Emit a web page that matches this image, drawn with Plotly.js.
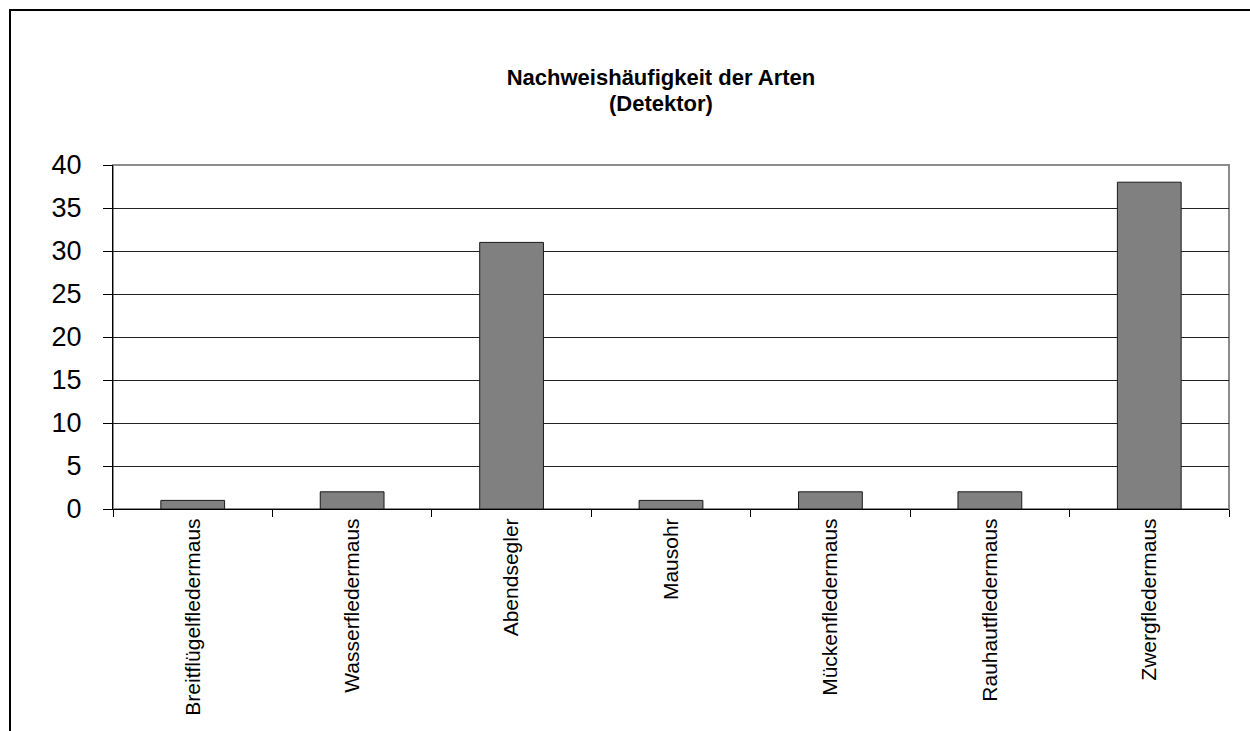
<!DOCTYPE html>
<html>
<head>
<meta charset="utf-8">
<script src="https://cdn.plot.ly/plotly-3.0.1.min.js"></script>
<style>
  html, body { margin: 0; padding: 0; background: #ffffff; overflow: hidden; }
  #wrap { position: relative; width: 1250px; height: 731px; overflow: hidden; }
  #chart { width: 1250px; height: 731px; }
  #frame { position: absolute; left: 9px; top: 9px; width: 1400px; height: 900px;
           border-top: 2px solid #000; border-left: 2px solid #000; pointer-events: none; }
</style>
</head>
<body>
<div id="wrap">
  <div id="chart"></div>
  <div id="frame"></div>
</div>
<script>
const categories = ["Breitflügelfledermaus", "Wasserfledermaus", "Abendsegler", "Mausohr", "Mückenfledermaus", "Rauhautfledermaus", "Zwergfledermaus"];
const counts = [1, 2, 31, 1, 2, 2, 38];
const yTicks = [0, 5, 10, 15, 20, 25, 30, 35, 40];
const titleLine1 = "Nachweishäufigkeit der Arten";
const titleLine2 = "(Detektor)";

const font = "Arial, 'Liberation Sans', sans-serif";

const trace = {
  type: "bar",
  x: categories,
  y: counts,
  marker: { color: "#808080", line: { color: "#1a1a1a", width: 1 } },
  hoverinfo: "x+y"
};

const layout = {
  width: 1250,
  height: 731,
  paper_bgcolor: "#ffffff",
  plot_bgcolor: "#ffffff",
  margin: { l: 113, r: 21, t: 165, b: 222, pad: 0 },
  showlegend: false,
  bargap: 0.6,
  title: {
    text: "<b>" + titleLine1 + "</b>",
    font: { family: font, size: 22, color: "#000000" },
    xref: "paper", x: 0.491, xanchor: "center",
    yref: "container", y: 0.894, yanchor: "middle"
  },
  annotations: [
    {
      text: "<b>" + titleLine2 + "</b>",
      font: { family: font, size: 22, color: "#000000" },
      xref: "paper", yref: "paper",
      x: 0.491, y: 1.178, xanchor: "center", yanchor: "middle",
      showarrow: false
    }
  ],
  xaxis: {
    type: "category",
    tickson: "boundaries",
    ticks: "outside",
    ticklen: 7,
    tickcolor: "#000000",
    tickwidth: 1,
    tickangle: -90,
    tickfont: { family: font, size: 21, color: "#000000" },
    showline: true,
    linecolor: "#000000",
    linewidth: 1,
    showgrid: false,
    zeroline: false
  },
  yaxis: {
    range: [0, 40],
    tickvals: yTicks,
    ticktext: yTicks.map(String),
    ticks: "outside",
    ticklen: 9,
    tickcolor: "#000000",
    tickwidth: 1,
    ticklabelstandoff: 16,
    tickfont: { family: font, size: 27, color: "#000000" },
    showline: true,
    linecolor: "#000000",
    linewidth: 1,
    showgrid: true,
    gridcolor: "#222222",
    gridwidth: 1,
    zeroline: false
  },
  shapes: [
    {
      type: "rect", xref: "paper", yref: "paper",
      x0: 0, x1: 1, y0: 0, y1: 1,
      line: { color: "#8c8c8c", width: 2 },
      layer: "below"
    }
  ]
};

Plotly.newPlot("chart", [trace], layout, { displayModeBar: false, staticPlot: true });
</script>
</body>
</html>
